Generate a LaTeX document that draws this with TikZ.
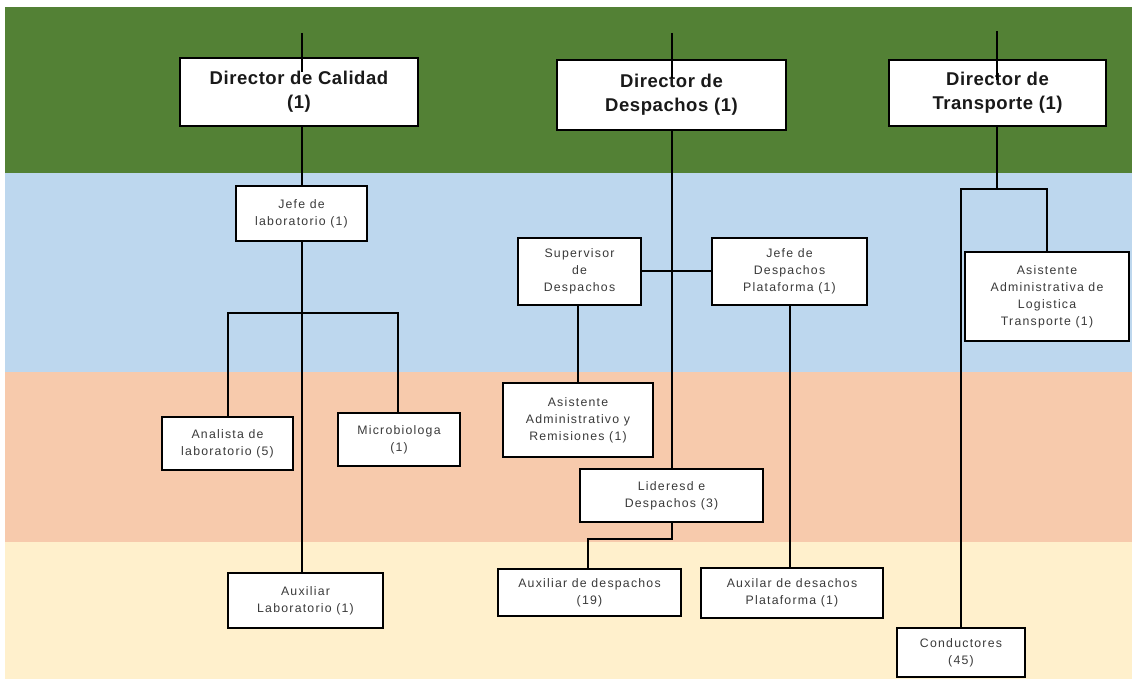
\documentclass[tikz,border=0pt]{standalone}
\usepackage{fontspec}
\setmainfont{Liberation Sans}
\newfontfamily\dirfont[LetterSpace=3]{Liberation Sans}
\newfontfamily\boxfont[LetterSpace=10]{Liberation Sans}
\definecolor{bgreen}{HTML}{538135}
\definecolor{bblue}{HTML}{BDD7EE}
\definecolor{bpeach}{HTML}{F7CAAC}
\definecolor{byellow}{HTML}{FFF0CC}
\definecolor{txtgray}{HTML}{3A3A3A}
\begin{document}
\begin{tikzpicture}[x=1pt,y=-1pt,
  box/.style={draw=black,line width=2pt,fill=white,inner sep=0pt,align=center},
  dirbox/.style={box,font=\dirfont\bfseries\fontsize{18.5}{24}\selectfont,text=black!90},
  smallbox/.style={box,font=\boxfont\fontsize{12.3}{17}\selectfont,text=txtgray},
  conn/.style={draw=black,line width=2pt}]
\useasboundingbox (0,0) rectangle (1132,679);
\fill[white] (0,0) rectangle (1132,679);
% bands
\fill[bgreen] (5,7) rectangle (1132,173);
\fill[bblue] (5,173) rectangle (1132,372);
\fill[bpeach] (5,372) rectangle (1132,542);
\fill[byellow] (5,542) rectangle (1132,679);
% coordinates
\coordinate (tc) at (302,33);
\coordinate (td) at (672,33);
\coordinate (tt) at (997,31);
\coordinate (ec) at (302,72);
\coordinate (ed) at (672,78);
\coordinate (et) at (997,80);
% nodes
\node[dirbox,minimum width=238pt,minimum height=68pt] (dc) at (299,92) {Director de Calidad\\(1)};
\node[dirbox,minimum width=229pt,minimum height=70pt] (dd) at (671.5,95) {Director de\\Despachos (1)};
\node[dirbox,minimum width=217pt,minimum height=66pt] (dt) at (997.5,93) {Director de\\Transporte (1)};
\node[smallbox,minimum width=131pt,minimum height=55pt] (jl) at (301.5,213.5) {Jefe de\\laboratorio (1)};
\node[smallbox,minimum width=131pt,minimum height=53pt] (an) at (227.5,443.5) {Analista de\\laboratorio (5)};
\node[smallbox,minimum width=122pt,minimum height=53pt] (mi) at (399,439.5) {Microbiologa\\(1)};
\node[smallbox,minimum width=155pt,minimum height=55pt] (al) at (305.5,600.5) {Auxiliar\\Laboratorio (1)};
\node[smallbox,minimum width=123pt,minimum height=67pt] (sd) at (579.5,271.5) {Supervisor\\de\\Despachos};
\node[smallbox,minimum width=155pt,minimum height=67pt] (jp) at (789.5,271.5) {Jefe de\\Despachos\\Plataforma (1)};
\node[smallbox,minimum width=150pt,minimum height=74pt] (aa) at (578,420) {Asistente\\Administrativo y\\Remisiones (1)};
\node[smallbox,minimum width=183pt,minimum height=53pt] (ld) at (671.5,495.5) {Lideresd e\\Despachos (3)};
\node[smallbox,minimum width=183pt,minimum height=47pt] (ad) at (589.5,592.5) {Auxiliar de despachos\\(19)};
\node[smallbox,minimum width=182pt,minimum height=50pt] (ap) at (792,593) {Auxilar de desachos\\Plataforma (1)};
\node[smallbox,minimum width=164pt,minimum height=89pt] (at) at (1047,296.5) {Asistente\\Administrativa de\\Logistica\\Transporte (1)};
\node[smallbox,minimum width=128pt,minimum height=49pt] (co) at (961,652.5) {Conductores\\(45)};
% top stubs
\draw[conn] (tc) -- (ec);
\draw[conn] (td) -- (ed);
\draw[conn] (tt) -- (et);
% Calidad branch
\coordinate (cx) at (302,0);
\draw[conn] (dc.south -| cx) -- (jl.north -| cx);
\draw[conn] (jl.south -| cx) -- (al.north -| cx);
\coordinate (bl) at (228,313);
\coordinate (br) at (398,313);
\draw[conn] (an.north -| bl) -- (bl) -- (br) -- (br |- mi.north);
% Despachos branch
\coordinate (dx) at (672,0);
\coordinate (hy) at (0,271);
\draw[conn] (dd.south -| dx) -- (ld.north -| dx);
\draw[conn] (sd.east |- hy) -- (jp.west |- hy);
\coordinate (sx) at (578,0);
\coordinate (px) at (790,0);
\draw[conn] (sd.south -| sx) -- (aa.north -| sx);
\draw[conn] (jp.south -| px) -- (ap.north -| px);
\coordinate (lk) at (672,539);
\coordinate (lj) at (588,539);
\draw[conn] (ld.south -| lk) -- (lk) -- (lj) -- (lj |- ad.north);
% Transporte branch
\coordinate (tk) at (997,189);
\coordinate (tl) at (961,189);
\coordinate (tr) at (1047,189);
\draw[conn] (dt.south -| tk) -- (tk);
\draw[conn] (co.north -| tl) -- (tl) -- (tr) -- (at.north -| tr);
\end{tikzpicture}
\end{document}
